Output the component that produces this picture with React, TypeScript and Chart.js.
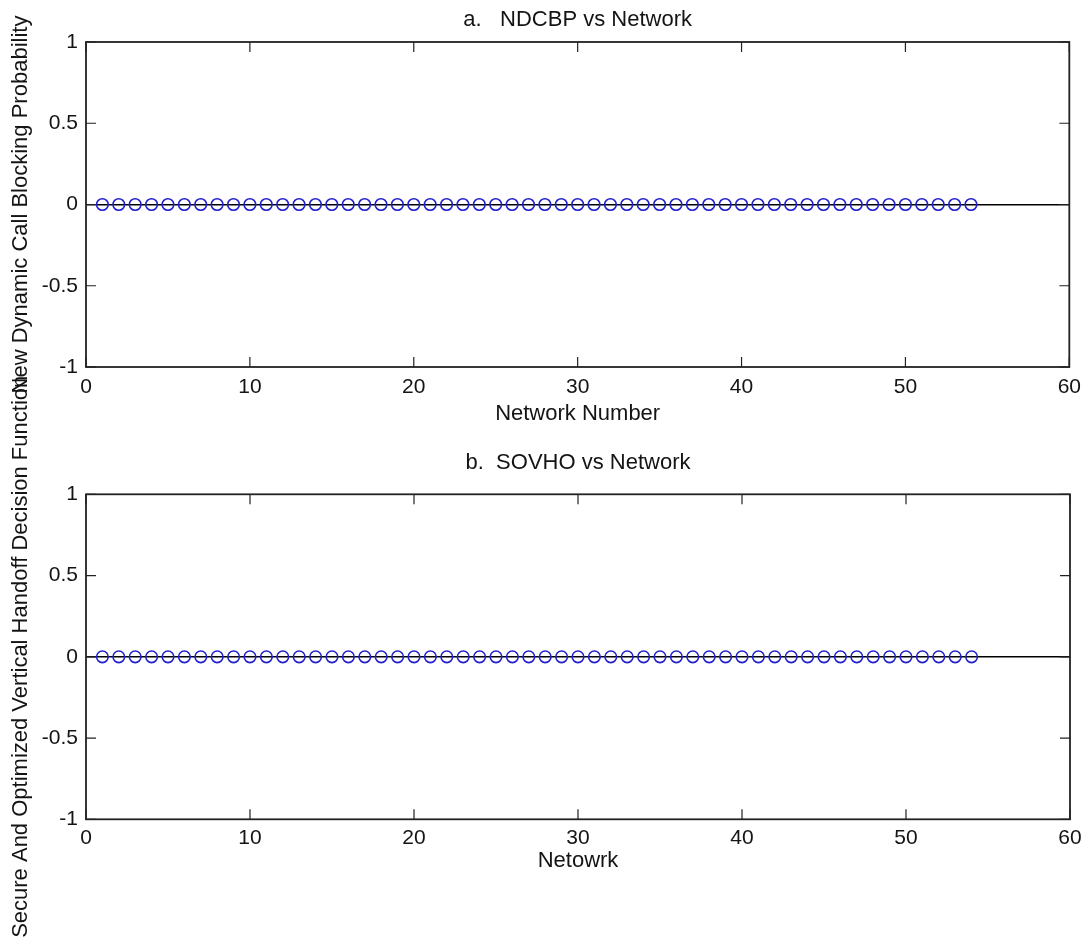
import React, { useEffect, useRef } from "react";
import { Chart, registerables } from "chart.js";

Chart.register(...registerables);

const networkNumbers = [
  1, 2, 3, 4, 5, 6, 7, 8, 9, 10, 11, 12, 13, 14, 15, 16, 17, 18,
  19, 20, 21, 22, 23, 24, 25, 26, 27, 28, 29, 30, 31, 32, 33, 34, 35, 36,
  37, 38, 39, 40, 41, 42, 43, 44, 45, 46, 47, 48, 49, 50, 51, 52, 53, 54,
];
const ndcbpValues = [
  0, 0, 0, 0, 0, 0, 0, 0, 0, 0, 0, 0, 0, 0, 0, 0, 0, 0,
  0, 0, 0, 0, 0, 0, 0, 0, 0, 0, 0, 0, 0, 0, 0, 0, 0, 0,
  0, 0, 0, 0, 0, 0, 0, 0, 0, 0, 0, 0, 0, 0, 0, 0, 0, 0,
];
const sovhoValues = [
  0, 0, 0, 0, 0, 0, 0, 0, 0, 0, 0, 0, 0, 0, 0, 0, 0, 0,
  0, 0, 0, 0, 0, 0, 0, 0, 0, 0, 0, 0, 0, 0, 0, 0, 0, 0,
  0, 0, 0, 0, 0, 0, 0, 0, 0, 0, 0, 0, 0, 0, 0, 0, 0, 0,
];
const xTickValues = [0, 10, 20, 30, 40, 50, 60];
const yTickValues = [-1, -0.5, 0, 0.5, 1];
const titleA = "a.   NDCBP vs Network";
const titleB = "b.  SOVHO vs Network";
const xLabelA = "Network Number";
const xLabelB = "Netowrk";
const yLabelA = "New Dynamic Call Blocking Probability";
const yLabelB = "Secure And Optimized Vertical Handoff Decision Function";

const FONT = "'Liberation Sans', Arial, Helvetica, sans-serif";
const TEXT = "#141414";
const MARKER = "rgb(32,32,205)";

const matlabBox = {
  id: "matlabBox",
  afterDatasetsDraw(chart: any) {
    const { ctx, chartArea, scales } = chart;
    const { left, right, top, bottom } = chartArea;
    const x = scales.x;
    const y = scales.y;
    ctx.save();
    ctx.strokeStyle = "#222";
    ctx.lineWidth = 1.2;
    ctx.beginPath();
    x.ticks.forEach((t: any) => {
      const px = x.getPixelForValue(t.value);
      ctx.moveTo(px, bottom);
      ctx.lineTo(px, bottom - 10);
      ctx.moveTo(px, top);
      ctx.lineTo(px, top + 10);
    });
    y.ticks.forEach((t: any) => {
      const py = y.getPixelForValue(t.value);
      ctx.moveTo(left, py);
      ctx.lineTo(left + 10, py);
      ctx.moveTo(right, py);
      ctx.lineTo(right - 10, py);
    });
    ctx.stroke();
    ctx.lineWidth = 1.8;
    ctx.strokeRect(left, top, right - left, bottom - top);
    ctx.restore();
  },
};

type Lay = {
  padTop: number;
  padBottom: number;
  titleTop: number;
  titleBottom: number;
  xTickPad: number;
  xTitleBottom: number;
};

function makeConfig(values: number[], title: string, xLabel: string, yLabel: string, lay: Lay): any {
  return {
    type: "scatter",
    data: {
      datasets: [
        {
          label: title,
          data: networkNumbers.map((n, i) => ({ x: n, y: values[i] })),
          pointStyle: "circle",
          pointRadius: 5.8,
          pointBorderWidth: 1.6,
          pointBorderColor: MARKER,
          pointBackgroundColor: "rgba(0,0,0,0)",
          showLine: false,
        },
      ],
    },
    options: {
      animation: false,
      responsive: false,
      events: [],
      layout: { padding: { left: 0, right: 19, top: lay.padTop, bottom: lay.padBottom } },
      plugins: {
        legend: { display: false },
        tooltip: { enabled: false },
        title: {
          display: true,
          text: title,
          fullSize: false,
          color: TEXT,
          font: { family: FONT, size: 22, weight: "normal" },
          padding: { top: lay.titleTop, bottom: lay.titleBottom },
        },
      },
      scales: {
        x: {
          type: "linear",
          min: 0,
          max: 60,
          afterBuildTicks: (s: any) => {
            s.ticks = xTickValues.map((v) => ({ value: v }));
          },
          afterFit: (s: any) => {
            s.height = 70;
          },
          grid: { display: false, drawTicks: false },
          border: { display: false },
          ticks: {
            color: TEXT,
            font: { family: FONT, size: 21 },
            padding: lay.xTickPad,
            maxRotation: 0,
            autoSkip: false,
          },
          title: {
            display: true,
            text: xLabel,
            color: TEXT,
            font: { family: FONT, size: 22 },
            padding: { top: 0, bottom: lay.xTitleBottom },
          },
        },
        y: {
          type: "linear",
          min: -1,
          max: 1,
          afterBuildTicks: (s: any) => {
            s.ticks = yTickValues.map((v) => ({ value: v }));
          },
          afterFit: (s: any) => {
            s.width = 86;
          },
          grid: {
            display: true,
            drawTicks: false,
            color: (c: any) => (c.tick && c.tick.value === 0 ? "#000" : "rgba(0,0,0,0)"),
            lineWidth: 1.5,
          },
          border: { display: false },
          ticks: {
            color: TEXT,
            font: { family: FONT, size: 21 },
            padding: 8,
            callback: (v: any) => String(v),
          },
          title: {
            display: true,
            text: yLabel,
            color: TEXT,
            font: { family: FONT, size: 22 },
            padding: { top: 7.8, bottom: 0 },
          },
        },
      },
    },
    plugins: [matlabBox],
  };
}

export default function App() {
  const topRef = useRef<HTMLCanvasElement | null>(null);
  const botRef = useRef<HTMLCanvasElement | null>(null);

  useEffect(() => {
    const charts: Chart[] = [];
    if (topRef.current) {
      charts.push(
        new Chart(
          topRef.current,
          makeConfig(ndcbpValues, titleA, xLabelA, yLabelA, {
            padTop: 0,
            padBottom: 503,
            titleTop: 6.8,
            titleBottom: 8.8,
            xTickPad: 8,
            xTitleBottom: 10.3,
          })
        )
      );
    }
    if (botRef.current) {
      charts.push(
        new Chart(
          botRef.current,
          makeConfig(sovhoValues, titleB, xLabelB, yLabelB, {
            padTop: 430,
            padBottom: 50.7,
            titleTop: 19.8,
            titleBottom: 18.1,
            xTickPad: 6,
            xTitleBottom: 15.1,
          })
        )
      );
    }
    return () => charts.forEach((c) => c.destroy());
  }, []);

  return (
    <div
      style={{
        position: "fixed",
        left: 0,
        top: 0,
        width: 1089,
        height: 940,
        background: "#fff",
        overflow: "hidden",
      }}
    >
      <canvas ref={topRef} width={1089} height={940} style={{ position: "absolute", left: 0, top: 0 }} />
      <canvas ref={botRef} width={1089} height={940} style={{ position: "absolute", left: 0, top: 0 }} />
    </div>
  );
}
